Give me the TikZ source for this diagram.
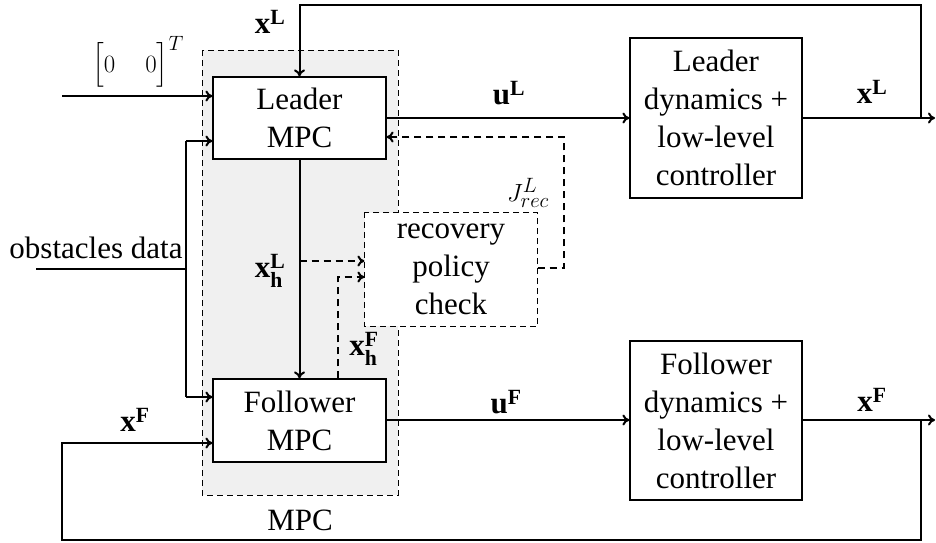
\documentclass[tikz,border=0pt]{standalone}
\usepackage{fontspec}
\setmainfont{Liberation Serif}
\usepackage{amsmath}
\usetikzlibrary{arrows.meta}
\begin{document}
\begin{tikzpicture}[x=1pt,y=-1pt,
  font=\fontsize{31}{38}\selectfont,
  blk/.style={draw, line width=1.2pt, fill=white, align=center, inner sep=0pt},
  conn/.style={line width=2pt},
  arr/.style={conn, -{To[length=7pt,width=11pt]}},
  dconn/.style={conn, dash pattern=on 7pt off 5pt},
  darr/.style={dconn, -{To[length=7pt,width=11pt]}},
  thindash/.style={line width=1pt, dash pattern=on 6pt off 4pt},
  lbl/.style={inner sep=0pt}]
\useasboundingbox (0,0) rectangle (936,542);
% MPC region
\coordinate (mpcNW) at (202,50);
\coordinate (mpcSE) at (398,495);
\path[fill=gray!12] (mpcNW) rectangle (mpcSE);
\draw[thindash] (mpcNW) rectangle (mpcSE);
\node[lbl] (mpclbl) at (300,520) {MPC};
% blocks
\node[blk, minimum width=173pt, minimum height=82pt] (lmpc) at (299.5,118) {Leader\\MPC};
\node[blk, minimum width=173pt, minimum height=83pt] (fmpc) at (299.5,420.5) {Follower\\MPC};
\node[blk, minimum width=172pt, minimum height=160pt] (ldyn) at (716,118) {Leader\\dynamics +\\low-level\\controller};
\node[blk, minimum width=172pt, minimum height=159pt] (fdyn) at (716,420.5) {Follower\\dynamics +\\low-level\\controller};
\node[blk, draw=none, minimum width=172pt, minimum height=113pt] (rec) at (451,269.5) {recovery\\policy\\check};
\draw[thindash] (rec.north west) rectangle (rec.south east);
% coordinates
\coordinate (inT) at (62,96);
\coordinate (obs) at (36,269);
\coordinate (obsj) at (186,269);
\coordinate (obsA) at (186,141);
\coordinate (obsB) at (186,397);
\coordinate (outL) at (935,118);
\coordinate (outF) at (935,420);
\coordinate (brL) at (921,118);
\coordinate (brF) at (921,420);
\coordinate (topL) at (921,5);
\coordinate (botF) at (921,540);
\coordinate (fbF) at (62,443);
\coordinate (hF) at (338,277);
\coordinate (jR) at (564,268);
\coordinate (jT) at (564,137);
% connectors
\draw[arr] (inT) -- (lmpc.west |- inT);
\draw[conn] (obs) -- (obsj);
\draw[conn] (obsA) -- (obsB);
\draw[arr] (obsA) -- (lmpc.west |- obsA);
\draw[arr] (obsB) -- (fmpc.west |- obsB);
\draw[arr] (lmpc.east) -- (ldyn.west);
\draw[arr] (fmpc.east |- brF) -- (fdyn.west |- brF);
\draw[arr] (ldyn.east) -- (outL);
\draw[arr] (fdyn.east |- brF) -- (outF);
\draw[arr] (brL) -- (topL) -| (lmpc.north);
\draw[arr] (brF) -- (botF) -| (fbF) -- (fmpc.west |- fbF);
\draw[arr] (lmpc.south) -- (fmpc.north);
\draw[darr] (lmpc.south |- 0,261) -- (rec.west |- 0,261);
\draw[darr] (fmpc.north -| hF) -- (hF) -- (rec.west |- hF);
\draw[darr] (rec.east |- jR) -- (jR) -- (jT) -- (lmpc.east |- jT);
% labels
\node[lbl] (lxL) at (270,22) {$\textbf{x}^{\textbf{L}}$};
\node[lbl] (lin) at (138,62) {\setlength{\arraycolsep}{15pt}$\begin{bmatrix}0 & 0\end{bmatrix}^T$};
\node[lbl, anchor=base] (lobs) at (96,258) {obstacles data};
\node[lbl] (luL) at (509,93) {$\textbf{u}^{\textbf{L}}$};
\node[lbl] (lxLr) at (872,92) {$\textbf{x}^{\textbf{L}}$};
\node[lbl] (lxhL) at (270,271) {$\textbf{x}^{\textbf{L}}_{\textbf{h}}$};
\node[lbl] (lxhF) at (364,349) {$\textbf{x}^{\textbf{F}}_{\textbf{h}}$};
\node[lbl] (lJ) at (528,193) {$J^{L}_{rec}$};
\node[lbl] (luF) at (506,402) {$\textbf{u}^{\textbf{F}}$};
\node[lbl] (lxFr) at (872,400) {$\textbf{x}^{\textbf{F}}$};
\node[lbl] (lxF) at (135,420) {$\textbf{x}^{\textbf{F}}$};
\end{tikzpicture}
\end{document}
